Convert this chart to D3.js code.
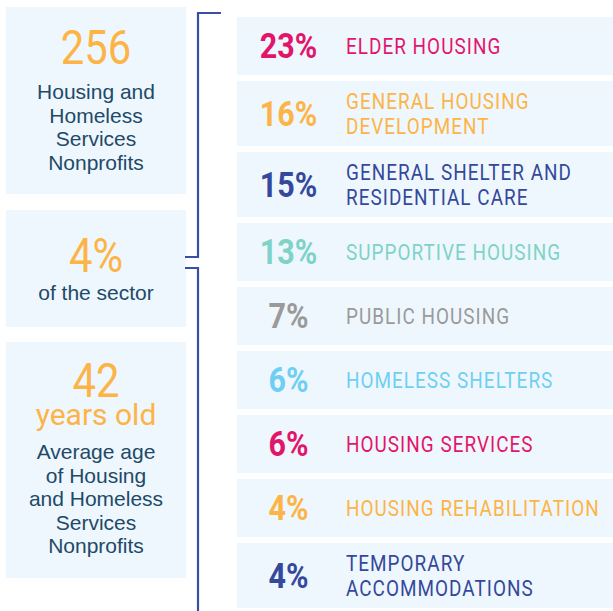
<!DOCTYPE html>
<html>
<head>
<meta charset="utf-8">
<script src="https://cdn.jsdelivr.net/npm/d3@7"></script>
<style>
  html, body { margin: 0; padding: 0; background: #fff; }
  svg { display: block; }
</style>
</head>
<body>
<script>
// ---------- DATA ----------
const statValues = ["256", "4%", "42"];
const statSubtitles = ["", "", "years old"];
const statDescriptions = [
  ["Housing and", "Homeless", "Services", "Nonprofits"],
  ["of the sector"],
  ["Average age", "of Housing", "and Homeless", "Services", "Nonprofits"]
];

const categories = [
  ["ELDER HOUSING"],
  ["GENERAL HOUSING", "DEVELOPMENT"],
  ["GENERAL SHELTER AND", "RESIDENTIAL CARE"],
  ["SUPPORTIVE HOUSING"],
  ["PUBLIC HOUSING"],
  ["HOMELESS SHELTERS"],
  ["HOUSING SERVICES"],
  ["HOUSING REHABILITATION"],
  ["TEMPORARY", "ACCOMMODATIONS"]
];
const percentages = [23, 16, 15, 13, 7, 6, 6, 4, 4];
const colorKeys = ["pink", "orange", "navy", "teal", "gray", "sky", "pink", "orange", "navy"];

// ---------- STYLE ----------
const palette = d3.scaleOrdinal()
  .domain(["pink", "orange", "navy", "teal", "gray", "sky"])
  .range(["#e2156b", "#fdb447", "#34489c", "#7fd2c8", "#9a9a9a", "#6fcff3"]);
const panelFill = "#eef7fd";
const bracketColor = "#3a4ea4";
const descColor = "#1e4a68";
const orange = "#fdb447";

const W = 613, H = 611;
const svg = d3.select("body").append("svg").attr("width", W).attr("height", H);

// ---------- LEFT PANELS ----------
const panelBoxes = [
  { y0: 7, y1: 194, numBase: 64, subBase: null, descBase: 99, lh: 23.7 },
  { y0: 210, y1: 327, numBase: 272, subBase: null, descBase: 300, lh: 23.5 },
  { y0: 342, y1: 578, numBase: 397, subBase: 425, descBase: 459, lh: 23.5 }
];
const px = d3.scaleLinear().domain([0, 1]).range([6, 186]);
const cx = px(0.5);

const panels = svg.selectAll("g.panel").data(statValues).join("g").attr("class", "panel");
panels.append("rect")
  .attr("x", px(0)).attr("width", px(1) - px(0))
  .attr("y", (d, i) => panelBoxes[i].y0)
  .attr("height", (d, i) => panelBoxes[i].y1 - panelBoxes[i].y0)
  .attr("fill", panelFill);

panels.each(function (d, i) {
  const g = d3.select(this);
  const box = panelBoxes[i];
  const big = g.append("text")
    .attr("text-anchor", "middle")
    .attr("font-family", "Roboto")
    .attr("fill", orange);
  const num = big.append("tspan")
    .attr("x", cx).attr("y", box.numBase)
    .attr("font-size", 48)
    .text(d);
  // condense the big figures slightly
  const natural = num.node().getComputedTextLength();
  num.attr("textLength", natural * 0.87).attr("lengthAdjust", "spacingAndGlyphs");
  if (statSubtitles[i]) {
    big.append("tspan")
      .attr("x", cx).attr("y", box.subBase)
      .attr("font-size", 30)
      .text(statSubtitles[i]);
  }
  g.selectAll("text.desc").data(statDescriptions[i]).join("text")
    .attr("class", "desc")
    .attr("x", cx)
    .attr("y", (t, j) => box.descBase + j * box.lh)
    .attr("text-anchor", "middle")
    .attr("font-family", "Liberation Sans")
    .attr("font-size", 21)
    .attr("fill", descColor)
    .text(t => t);
});

// ---------- BRACKET ----------
const bracket = d3.path();
bracket.moveTo(221, 13); bracket.lineTo(198, 13); bracket.lineTo(198, 257); bracket.lineTo(185, 257);
bracket.moveTo(185, 268); bracket.lineTo(198, 268); bracket.lineTo(198, 611);
svg.append("path").attr("d", bracket.toString())
  .attr("fill", "none").attr("stroke", bracketColor).attr("stroke-width", 2.2);

// ---------- RIGHT ROWS ----------
const gap = 6, single = 58, dbl = 65;
let acc = 0;
const rowLayout = categories.map(c => {
  const h = c.length > 1 ? dbl : single;
  const r = { start: acc, end: acc + h };
  acc += h + gap;
  return r;
});
const y = d3.scaleLinear().domain([0, acc - gap]).range([17, 17 + acc - gap]);
const x = d3.scaleLinear().domain([0, 1]).range([237, 613]);

const rows = svg.selectAll("g.row").data(percentages).join("g").attr("class", "row");
rows.append("rect")
  .attr("x", x(0)).attr("width", x(1) - x(0))
  .attr("y", (d, i) => y(rowLayout[i].start))
  .attr("height", (d, i) => y(rowLayout[i].end) - y(rowLayout[i].start))
  .attr("fill", panelFill);

rows.append("text")
  .attr("transform", (d, i) => {
    const mid = (y(rowLayout[i].start) + y(rowLayout[i].end)) / 2;
    return `translate(288.5,${mid + 12}) scale(0.87,1)`;
  })
  .attr("text-anchor", "middle")
  .attr("font-family", "Roboto")
  .attr("font-weight", 700)
  .attr("font-size", 35)
  .attr("fill", (d, i) => palette(colorKeys[i]))
  .text(d => d + "%");

const labelSX = 0.86;
rows.each(function (d, i) {
  const g = d3.select(this);
  const mid = (y(rowLayout[i].start) + y(rowLayout[i].end)) / 2;
  const lines = categories[i];
  const lh = 25;
  const firstBase = mid + 8 - (lines.length - 1) * lh / 2;
  const lg = g.append("g");
  const t = lg.selectAll("text").data(lines).join("text")
    .attr("x", 0)
    .attr("y", (s, j) => firstBase + j * lh)
    .attr("font-family", "Roboto")
    .attr("font-size", 22)
    .attr("letter-spacing", 1.2)
    .attr("fill", palette(colorKeys[i]))
    .text(s => s);
  let maxW = 0;
  t.each(function () { maxW = Math.max(maxW, this.getComputedTextLength()); });
  const lx = Math.min(346, 600 - maxW * labelSX);
  lg.attr("transform", `translate(${lx},0) scale(${labelSX},1)`);
});
</script>
</body>
</html>
